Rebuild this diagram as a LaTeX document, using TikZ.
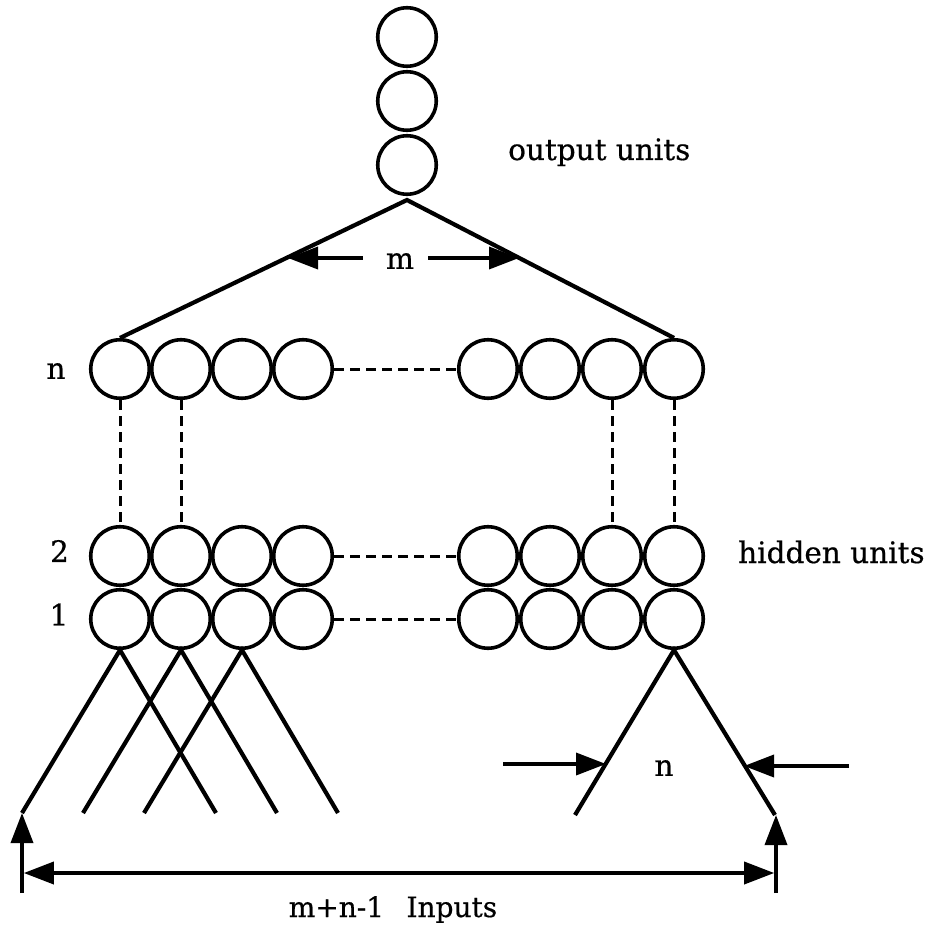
\documentclass[tikz,border=0pt]{standalone}
\usepackage{fontspec}
\setmainfont{DejaVu Serif}
\newfontfamily\labelfont{DejaVu Serif}[FakeBold=0.6]
\usetikzlibrary{arrows.meta,calc}
\begin{document}
\begin{tikzpicture}[x=1pt,y=-1pt,
  unit/.style={circle,draw,line width=3.6pt,minimum size=58.5pt,inner sep=0pt},
  link/.style={line width=4.2pt},
  dots/.style={line width=3pt,dash pattern=on 10pt off 6pt},
  dim/.style={line width=3.6pt,-{Triangle[length=30pt,width=22pt]}},
  lbl/.style={font=\labelfont\fontsize{29.5}{33}\selectfont,inner sep=0pt}
]
\useasboundingbox (0,0) rectangle (934,928);

% output units
\foreach \i/\y in {1/37,2/101,3/165} \node[unit] (o\i) at (407,\y) {};
\coordinate (apex) at (407,200);
\node[lbl,anchor=base west] (outtxt) at (508,160) {output units};

% hidden layers: rows n, 2 (b) and 1 (a)
\foreach \r/\y in {n/369,b/556,a/619}{
  \foreach \i/\x in {1/120,2/181,3/242,4/303} \node[unit] (\r L\i) at (\x,\y) {};
  \foreach \i/\x in {1/488,2/550,3/612,4/674} \node[unit] (\r R\i) at (\x,\y) {};
  \draw[dots] (\r L4.east) -- (\r R1.west);
}
\draw[dots] (nL1.south) -- (bL1.north);
\draw[dots] (nL2.south) -- (bL2.north);
\draw[dots] (nR3.south) -- (bR3.north);
\draw[dots] (nR4.south) -- (bR4.north);

\node[lbl] (rown) at (56,371) {n};
\node[lbl] (row2) at (59.5,551) {2};
\node[lbl] (row1) at (59,614.5) {1};
\node[lbl,anchor=base west] (hidtxt) at (738,563) {hidden units};

% fan-in from the top hidden row to the output units
\draw[link] (nL1.north) -- (apex) -- (nR4.north);
\node[lbl] (mlab) at (400,261) {m};
\coordinate (mtipL) at (288,258);
\coordinate (mtipR) at (519,258);
\draw[dim] ([xshift=-23pt]mlab.west |- mtipL) -- (mtipL);
\draw[dim] ([xshift=14pt]mlab.east |- mtipR) -- (mtipR);

% receptive fields of the first hidden row
\foreach \i/\x in {1/120,2/181,3/242}{
  \coordinate (legL\i) at (\x-98,813);
  \coordinate (legR\i) at (\x+96,813);
  \draw[link] (legL\i) -- (aL\i.south) -- (legR\i);
}
\coordinate (triL) at (575,815);
\coordinate (triR) at (775,815);
\draw[link] (triL) -- (aR4.south) -- (triR);

% width of one receptive field
\node[lbl] (nlab) at (664,768) {n};
\coordinate (nTailL) at (503,764);
\coordinate (nTipL) at (606,764);
\coordinate (nTailR) at (849,766);
\coordinate (nTipR) at (744,766);
\draw[dim] (nTailL) -- (nTipL);
\draw[dim] (nTailR) -- (nTipR);

% span of the input layer
\coordinate (footL) at (22,893);
\coordinate (footR) at (776,893);
\draw[dim] (footL) -- (legL1);
\draw[dim] (footR) -- (triR -| footR);
\draw[line width=3.6pt,{Triangle[length=30pt,width=22pt]}-{Triangle[length=30pt,width=22pt]}]
  ([xshift=1.8pt]footL |- 0,873) -- ([xshift=-1.8pt]footR |- 0,873);
\node[lbl,font=\labelfont\fontsize{28}{32}\selectfont,anchor=base] (intxt) at (393,917)
  {m+n-1\hspace{0.8em}Inputs};
\end{tikzpicture}
\end{document}
